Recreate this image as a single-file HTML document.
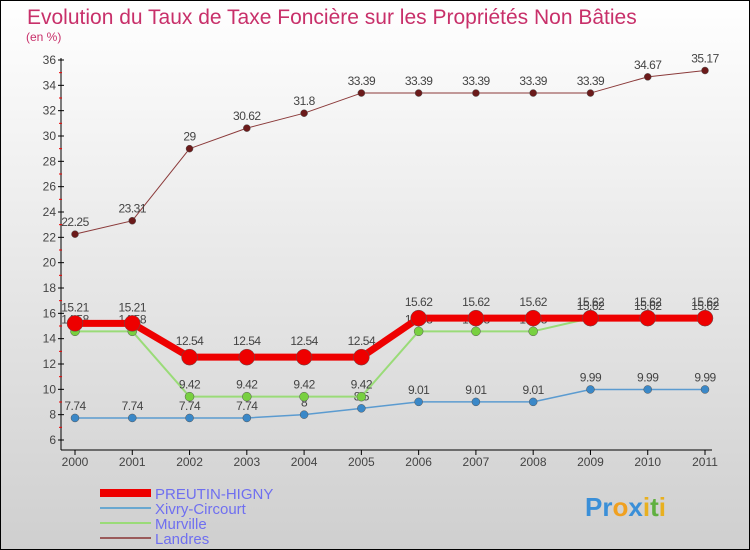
<!DOCTYPE html>
<html><head><meta charset="utf-8"><style>
body{margin:0}
svg{display:block;font-family:"Liberation Sans",sans-serif}
</style></head><body>
<svg width="750" height="550" viewBox="0 0 750 550">
<defs><linearGradient id="bg" x1="0" y1="0" x2="0" y2="1"><stop offset="0" stop-color="#ffffff"/><stop offset="1" stop-color="#cfcfcf"/></linearGradient></defs>
<rect x="0.5" y="0.5" width="749" height="549" fill="url(#bg)" stroke="#000"/>
<text x="27" y="24" font-size="21" fill="#c8306a">Evolution du Taux de Taxe Foncière sur les Propriétés Non Bâties</text>
<text x="26" y="41" font-size="12" fill="#c8306a">(en %)</text>
<g id="axes"></g>
<g id="series"></g>
<g id="legend"></g>
<g font-size="26" font-weight="bold">
<text x="585" y="516"><tspan fill="#3a8fd8">Pr</tspan><tspan fill="#f0a020">o</tspan><tspan fill="#3a8fd8">x</tspan><tspan fill="#e8b020">i</tspan><tspan fill="#60b040">t</tspan><tspan fill="#e8b020">i</tspan></text>
</g>
</svg>
<script>
const years=["2000","2001","2002","2003","2004","2005","2006","2007","2008","2009","2010","2011"];
const preutin=[15.21,15.21,12.54,12.54,12.54,12.54,15.62,15.62,15.62,15.62,15.62,15.62];
const xivry=[7.74,7.74,7.74,7.74,8,8.5,9.01,9.01,9.01,9.99,9.99,9.99];
const murville=[14.58,14.58,9.42,9.42,9.42,9.42,14.58,14.58,14.58,15.62,15.62,15.62];
const landres=[22.25,23.31,29,30.62,31.8,33.39,33.39,33.39,33.39,33.39,34.67,35.17];
const yTicks=[6,8,10,12,14,16,18,20,22,24,26,28,30,32,34,36];
const names=["PREUTIN-HIGNY","Xivry-Circourt","Murville","Landres"];
const NS="http://www.w3.org/2000/svg";
function X(i){return 75+i*(705-75)/(years.length-1);}
function Y(v){return 440-(v-6)*(380/30);}
function mk(tag,attrs,parent){const e=document.createElementNS(NS,tag);for(const k in attrs)e.setAttribute(k,attrs[k]);parent.appendChild(e);return e;}
const ax=document.getElementById('axes');
const yl=mk('line',{x1:61,y1:58,x2:61,y2:450,stroke:'#000','stroke-width':1},ax);


const xl=mk('line',{x1:61,y1:450,x2:712,y2:450,stroke:'#000','stroke-width':1},ax);


yTicks.forEach(v=>{
 mk('line',{x1:58,y1:Y(v),x2:64,y2:Y(v),stroke:'#000'},ax);
 const t=mk('text',{x:56,y:Y(v)+4,'font-size':12,fill:'#444','text-anchor':'end'},ax);
 t.textContent=v;
 
 
 if(v<36) mk('line',{x1:59,y1:Y(v+1),x2:62,y2:Y(v+1),stroke:'#e00'},ax);
});
years.forEach((y,i)=>{
 mk('line',{x1:X(i),y1:450,x2:X(i),y2:455,stroke:'#000'},ax);
 const t=mk('text',{x:X(i),y:466,'font-size':12,fill:'#444','text-anchor':'middle'},ax);
 t.textContent=y;
 
 
});
const sg=document.getElementById('series');
function draw(vals,color,w,r,name,dotStroke,off){
 const g=mk('g',{},sg);
 
 
 mk('polyline',{points:vals.map((v,i)=>X(i)+','+Y(v)).join(' '),fill:'none',stroke:color,'stroke-width':w,'stroke-linejoin':'round'},g);
 vals.forEach((v,i)=>{
  const c=mk('circle',{cx:X(i),cy:Y(v),r:r,fill:dotStroke,stroke:'#555','stroke-width':0.5},g);
  
  
  const t=mk('text',{x:X(i),y:Y(v)-off,'font-size':12,fill:'#444','text-anchor':'middle','letter-spacing':'-0.5'},g);
  t.textContent=v;
  
  
 });
}
draw(landres,'#8b3a3a',1,3.5,'landres','#6b1a1a',8);
draw(xivry,'#5b9bd0',1.5,4,'xivry','#3a88c8',8);
draw(murville,'#9adb78',2,4.5,'murville','#78d040',8);
draw(preutin,'#ee0000',7,8,'preutin','#ee0000',12);
const lg=document.getElementById('legend');
const cols=['#ee0000','#6aa8d0','#9adb78','#9a5a5a'],ws=[8,2,2,2];
names.forEach((n,i)=>{
 const y=493+i*15;
 const g=mk('g',{},lg);
 
 
 mk('line',{x1:100,y1:y,x2:151,y2:y,stroke:cols[i],'stroke-width':ws[i]},g);
 const t=mk('text',{x:155,y:y+6,'font-size':15,fill:'#6f6ff0'},g);
 t.textContent=n;
});
</script>
</body></html>
